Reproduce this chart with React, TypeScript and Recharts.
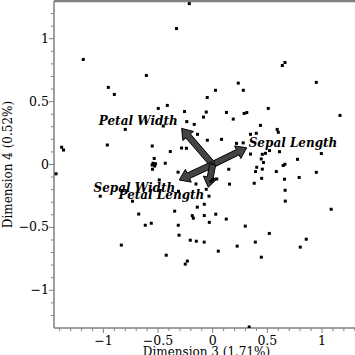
import { ScatterChart, Scatter, XAxis, YAxis, ReferenceLine } from 'recharts'

// PCA scores, dimension 3 vs dimension 4
const dim3 = [
  -0.214, -0.331, -1.184, -0.607, -0.955, -0.9, -0.498, -0.415, 0.661, 0.637,
  0.234, 0.948, 0.026, 0.28, -0.05, 0.508, 1.165, -0.258, -0.059, -0.084,
  0.126, 0.288, 0.312, 0.188, 0.437, 0.59, 0.6, -0.237, -0.169, -0.452,
  -0.8, -0.139, 0.346, 0.399, -0.049, 0.081, 0.218, 0.279, -1.382, -1.365,
  -0.964, -0.553, -0.285, -0.24, -0.388, -0.535, -0.546, -0.523, -0.554, -0.531,
  -0.551, -0.434, -0.317, -1.433, -0.489, 0.346, 0.454, 0.483, 0.52, 0.611,
  0.994, 0.444, 0.465, 0.661, 0.645, 0.776, 0.403, 0.454, 0.392, 0.582,
  0.948, 0.791, 0.448, 0.037, 0.147, 0.657, 0.38, 0.154, 0.663, 0.664,
  1.084, -0.153, -0.016, 0.0, -0.313, -0.059, -0.034, -0.077, -0.141, -0.348,
  -0.187, -0.177, -0.077, 0.028, 0.124, -0.031, -0.315, 0.298, -0.308, 0.518,
  -0.205, -0.15, -0.078, 0.224, 0.39, 0.856, 0.801, 0.051, 0.445, -0.232,
  -0.251, 0.334, -1.029, -0.734, -0.677, -0.617, -0.562, -0.836, -0.425,
]
const dim4 = [
  1.279, 1.081, 0.835, 0.708, 0.613, 0.557, 0.446, 0.47, 0.811, 0.787,
  0.647, 0.653, 0.59, 0.59, 0.533, 0.446, 0.39, 0.421, 0.417, 0.377,
  0.414, 0.406, 0.413, 0.361, 0.311, 0.279, 0.256, 0.341, 0.319, 0.306,
  0.279, 0.24, 0.24, 0.248, 0.193, 0.2, 0.168, 0.172, 0.137, 0.115,
  0.155, 0.147, 0.131, 0.129, 0.103, 0.048, 0.01, 0.006, -0.004, -0.012,
  -0.038, 0.01, -0.061, -0.074, -0.123, 0.083, 0.081, 0.089, 0.111, 0.102,
  0.087, 0.044, 0.016, 0.002, -0.008, 0.041, -0.022, -0.037, -0.056, -0.056,
  -0.062, -0.103, -0.11, -0.115, -0.038, -0.117, -0.149, -0.156, -0.205, -0.291,
  -0.356, -0.155, -0.133, -0.121, -0.213, -0.197, -0.252, -0.316, -0.339, -0.371,
  -0.407, -0.427, -0.406, -0.395, -0.434, -0.46, -0.483, -0.49, -0.562, -0.548,
  -0.602, -0.61, -0.617, -0.649, -0.617, -0.594, -0.657, -0.689, -0.737, -0.768,
  -0.792, -1.292, -0.252, -0.292, -0.394, -0.483, -0.467, -0.641, -0.721,
]

// loading vectors
const varNames = ['Sepal Length', 'Petal Width', 'Sepal Width', 'Petal Length']
const varX = [0.311, -0.284, -0.306, -0.04]
const varY = [0.133, 0.287, -0.123, -0.181]

const xTicks = [
  -1.4, -1.3, -1.2, -1.1, -1, -0.9, -0.8, -0.7, -0.6, -0.5, -0.4, -0.3, -0.2, -0.1,
  0, 0.1, 0.2, 0.3, 0.4, 0.5, 0.6, 0.7, 0.8, 0.9, 1, 1.1, 1.2, 1.3,
]
const yTicks = [
  -1.2, -1.1, -1, -0.9, -0.8, -0.7, -0.6, -0.5, -0.4, -0.3, -0.2, -0.1,
  0, 0.1, 0.2, 0.3, 0.4, 0.5, 0.6, 0.7, 0.8, 0.9, 1, 1.1, 1.2,
]
const majorTicks = [-1, -0.5, 0, 0.5, 1]

const points = dim3.map((x, i) => ({ x, y: dim4[i] }))
const vectors = varNames.map((name, i) => ({ name, x: varX[i], y: varY[i] }))

const axisColor = '#808080'
const font = 'DejaVu Serif'

const isMajor = (v: number) => majorTicks.some((m) => Math.abs(m - v) < 1e-6)
const fmt = (v: number) => (v < 0 ? '\u2212' + Math.abs(v) : String(v))

const XTick = (props: any) => {
  const { x, y, payload } = props
  const major = isMajor(payload.value)
  return (
    <g>
      <line x1={x} y1={y} x2={x} y2={y + (major ? 5 : 3)} stroke={axisColor} />
      {major && (
        <text x={x} y={y + 17} textAnchor="middle" fontSize={12.5} fontFamily={font} fill="#000">
          {fmt(payload.value)}
        </text>
      )}
    </g>
  )
}

const YTick = (props: any) => {
  const { x, y, payload } = props
  const major = isMajor(payload.value)
  return (
    <g>
      <line x1={x - (major ? 5 : 3)} y1={y} x2={x} y2={y} stroke={axisColor} />
      {major && (
        <text x={x - 5} y={y + 4} textAnchor="end" fontSize={12.5} fontFamily={font} fill="#000">
          {fmt(payload.value)}
        </text>
      )}
    </g>
  )
}

const Dot = (props: any) => {
  const { cx, cy } = props
  return <rect x={cx - 1.5} y={cy - 1.5} width={3} height={3} fill="#000" />
}

const Arrow = (props: any) => {
  const { x1, y1, x2, y2 } = props
  const dx = x2 - x1
  const dy = y2 - y1
  const len = Math.sqrt(dx * dx + dy * dy)
  const ux = dx / len
  const uy = dy / len
  const nx = -uy
  const ny = ux
  const w = 3
  const hw = 7
  const hl = 10
  const bx = x2 - ux * hl
  const by = y2 - uy * hl
  const pts = [
    [x1 + nx * w, y1 + ny * w],
    [bx + nx * w, by + ny * w],
    [bx + nx * hw, by + ny * hw],
    [x2, y2],
    [bx - nx * hw, by - ny * hw],
    [bx - nx * w, by - ny * w],
    [x1 - nx * w, y1 - ny * w],
  ]
  return (
    <polygon
      points={pts.map((p) => p.join(',')).join(' ')}
      fill="#444444"
      stroke="#000"
      strokeWidth={1}
      strokeLinejoin="miter"
    />
  )
}

const labelPlacement: Record<string, { dx: number; dy: number; anchor: string }> = {
  'Sepal Length': { dx: 2, dy: -1, anchor: 'start' },
  'Petal Width': { dx: -4, dy: -3, anchor: 'end' },
  'Sepal Width': { dx: -4, dy: 12, anchor: 'end' },
  'Petal Length': { dx: -4, dy: 12, anchor: 'end' },
}

const VarLabel = (props: any) => {
  const { cx, cy, payload } = props
  const p = labelPlacement[payload.name]
  return (
    <text
      x={cx + p.dx}
      y={cy + p.dy}
      textAnchor={p.anchor as any}
      fontSize={12}
      fontFamily={font}
      fontWeight="bold"
      fontStyle="italic"
      fill="#000"
    >
      {payload.name}
    </text>
  )
}

export default function App() {
  return (
    <div style={{ position: 'absolute', left: 0, top: 0, width: 355, height: 355, background: '#fff' }}>
      <ScatterChart width={355} height={355} margin={{ top: 1, right: 0, bottom: 0, left: 0 }}>
        <XAxis
          type="number"
          dataKey="x"
          domain={[-1.452, 1.302]}
          allowDataOverflow
          ticks={xTicks}
          interval={0}
          height={27}
          tickLine={false}
          tickSize={0}
          tickMargin={0}
          tick={<XTick />}
          axisLine={{ stroke: axisColor, strokeWidth: 1.5 }}
          label={{
            value: 'Dimension 3 (1.71%)',
            position: 'insideBottom',
            offset: -1,
            dx: 2,
            style: { fontFamily: font, fontSize: 12, fill: '#000' },
          }}
        />
        <YAxis
          type="number"
          dataKey="y"
          domain={[-1.3, 1.3]}
          allowDataOverflow
          ticks={yTicks}
          interval={0}
          width={54}
          tickLine={false}
          tickSize={0}
          tickMargin={0}
          tick={<YTick />}
          axisLine={{ stroke: axisColor, strokeWidth: 1.5 }}
          label={{
            value: 'Dimension 4 (0.52%)',
            angle: -90,
            position: 'insideLeft',
            offset: 8,
            style: { fontFamily: font, fontSize: 12, fill: '#000', textAnchor: 'middle' },
          }}
        />
        <ReferenceLine y={1.3} stroke={axisColor} strokeWidth={2.5} />
        <Scatter data={points} shape={<Dot />} isAnimationActive={false} />
        {vectors.map((v) => (
          <ReferenceLine
            key={v.name}
            segment={[
              { x: 0, y: 0 },
              { x: v.x, y: v.y },
            ]}
            shape={<Arrow />}
          />
        ))}
        <Scatter data={vectors} shape={<VarLabel />} isAnimationActive={false} />
      </ScatterChart>
    </div>
  )
}
